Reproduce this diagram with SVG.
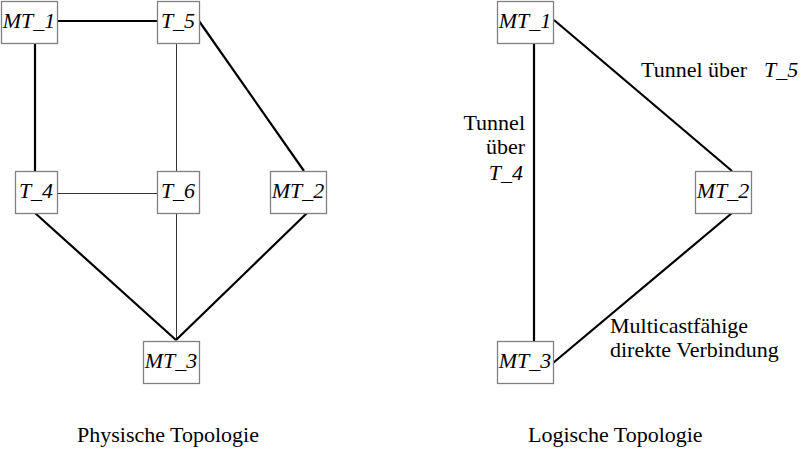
<svg xmlns="http://www.w3.org/2000/svg" width="801" height="450" viewBox="0 0 801 450">
<defs>
<style>
.box{fill:#fff;stroke:#808080;stroke-width:1.3}
.lbl{font-style:italic;fill:#000;text-anchor:middle}
.txt{fill:#000}
.it{font-style:italic}
.thick{stroke:#000;stroke-width:2.2;fill:none}
.thin{stroke:#333;stroke-width:1;fill:none}
</style>
</defs>
<rect width="801" height="450" fill="#fff"/>
<g id="connectors">
<line class="thick" x1="57" y1="21" x2="157" y2="21"/>
<line class="thick" x1="35" y1="43" x2="35" y2="171"/>
<line class="thin" x1="176.5" y1="43" x2="176.5" y2="171"/>
<line class="thin" x1="57" y1="193.5" x2="157" y2="193.5"/>
<line class="thick" x1="199" y1="21" x2="304" y2="171"/>
<line class="thick" x1="35" y1="213" x2="176" y2="340"/>
<line class="thin" x1="176.5" y1="213" x2="176.5" y2="340"/>
<line class="thick" x1="307" y1="213" x2="176" y2="340"/>
<line class="thick" x1="534" y1="43" x2="534" y2="341"/>
<line class="thick" x1="554" y1="20" x2="732" y2="171"/>
<line class="thick" x1="732" y1="213" x2="553" y2="363"/>
</g>
<g font-family="'Liberation Serif', 'Times New Roman', Times, serif" font-size="22">
<g id="p_MT_1"><rect class="box" x="1.5" y="1.5" width="56" height="42"/><text class="lbl" x="29" y="28">MT_1</text></g>
<g id="p_T_5"><rect class="box" x="157.5" y="1.5" width="42" height="42"/><text class="lbl" x="178" y="28">T_5</text></g>
<g id="p_T_4"><rect class="box" x="15.5" y="171.5" width="42" height="42"/><text class="lbl" x="36" y="198">T_4</text></g>
<g id="p_T_6"><rect class="box" x="157.5" y="171.5" width="42" height="42"/><text class="lbl" x="178" y="198">T_6</text></g>
<g id="p_MT_2"><rect class="box" x="270.5" y="171.5" width="56" height="42"/><text class="lbl" x="298" y="198">MT_2</text></g>
<g id="p_MT_3"><rect class="box" x="143.5" y="341.5" width="56" height="42"/><text class="lbl" x="171" y="368">MT_3</text></g>
<g id="l_MT_1"><rect class="box" x="497.5" y="1.5" width="56" height="42"/><text class="lbl" x="525" y="28">MT_1</text></g>
<g id="l_MT_2"><rect class="box" x="695.5" y="171.5" width="56" height="42"/><text class="lbl" x="723" y="198">MT_2</text></g>
<g id="l_MT_3"><rect class="box" x="497.5" y="341.5" width="56" height="42"/><text class="lbl" x="525" y="368">MT_3</text></g>
<g id="labels">
<text class="txt" x="641" y="77">Tunnel über</text>
<text class="txt it" x="764" y="77">T_5</text>
<text class="txt" x="525" y="130" text-anchor="end">Tunnel</text>
<text class="txt" x="525" y="154" text-anchor="end">über</text>
<text class="txt it" x="523" y="180" text-anchor="end">T_4</text>
<text class="txt" x="610" y="333">Multicastfähige</text>
<text class="txt" x="610" y="357">direkte Verbindung</text>
<text class="txt" x="77" y="442">Physische Topologie</text>
<text class="txt" x="528" y="442">Logische Topologie</text>
</g>
</g>
</svg>
